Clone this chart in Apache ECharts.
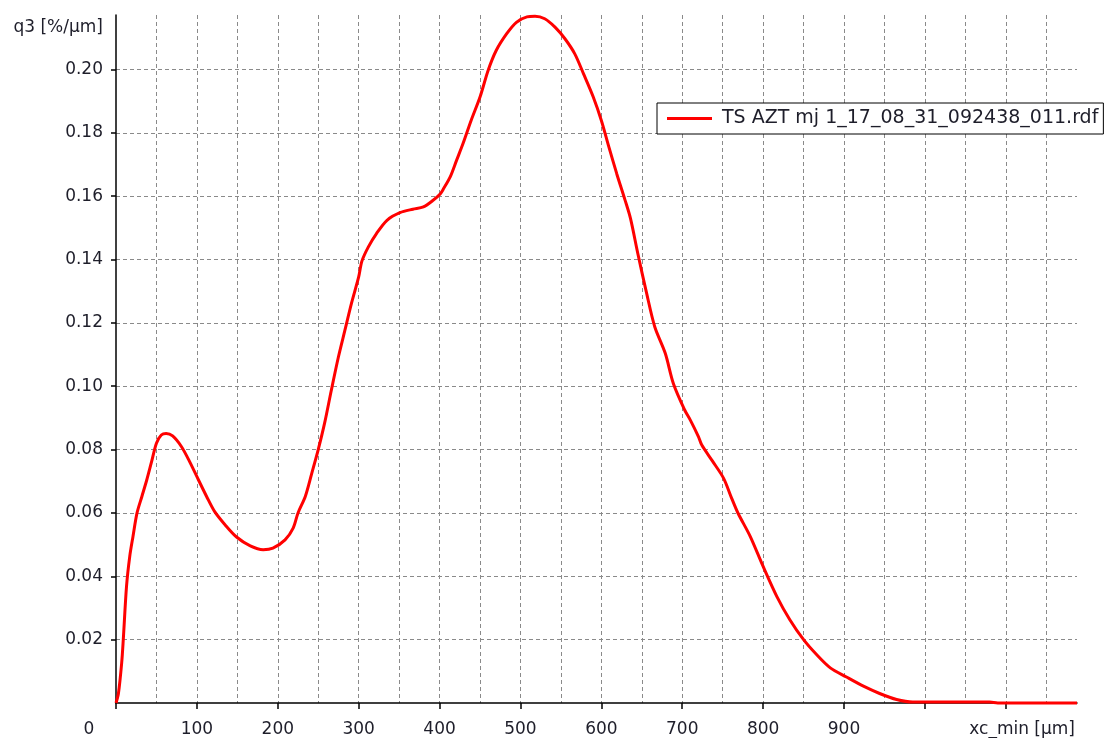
<!DOCTYPE html>
<html>
<head>
<meta charset="utf-8">
<script src="https://cdn.jsdelivr.net/npm/echarts@6/dist/echarts.min.js"></script>
<style>
  html, body { margin: 0; padding: 0; background: #fff; }
  #chart { width: 1110px; height: 738px; }
</style>
</head>
<body>
<div id="chart"></div>
<script>
// xc_min [µm]
const sizeX = [
  0, 3, 7, 9, 13, 17, 21, 26, 32, 38, 44, 50, 56, 62, 70, 81, 91, 102, 112, 122,
  135, 149, 166, 182, 194, 209, 219, 225, 234, 242, 250, 258, 266, 275, 283, 291,
  300, 304, 312, 322, 335, 351, 367, 380, 392, 401, 405, 413, 421, 429, 439, 450,
  460, 470, 483, 495, 508, 518, 530, 543, 555, 567, 578, 590, 600, 609, 619, 629,
  636, 645, 656, 666, 679, 689, 703, 710, 720, 724, 737, 751, 761, 769, 784, 800,
  817, 833, 850, 866, 883, 903, 924, 944, 965, 985, 1000, 1080, 1090, 1188
]
// q3 [%/µm]
const q3 = [
  0, 0.003, 0.0126, 0.02, 0.0368, 0.0463, 0.0526, 0.06, 0.0652, 0.0704, 0.0762, 0.082, 0.0846, 0.0851, 0.0843, 0.0809, 0.0762, 0.0704, 0.0652, 0.0604,
  0.0562, 0.0524, 0.0496, 0.0484, 0.0489, 0.0515, 0.0552, 0.06, 0.0652, 0.0725, 0.08, 0.0885, 0.0985, 0.1093, 0.1177, 0.1261,
  0.1345, 0.1395, 0.144, 0.1482, 0.1524, 0.1548, 0.1559, 0.1566, 0.1587, 0.1608, 0.1624, 0.166, 0.1713, 0.1766, 0.1839, 0.1913,
  0.1997, 0.206, 0.2113, 0.2149, 0.2166, 0.2168, 0.216, 0.2133, 0.2097, 0.205, 0.1986, 0.1913, 0.1839, 0.1758, 0.1671, 0.159,
  0.153, 0.142, 0.1293, 0.1188, 0.1104, 0.1009, 0.0925, 0.0893, 0.0841, 0.0815, 0.0765, 0.071, 0.0647, 0.0599, 0.0526, 0.0431,
  0.0336, 0.0263, 0.02, 0.0153, 0.0111, 0.0082, 0.0053, 0.003, 0.0011, 0.0003, 0.0003, 0.0003, 0, 0
]
const seriesName = 'TS AZT mj 1_17_08_31_092438_011.rdf'

const myChart = echarts.init(document.getElementById('chart'))

const gridLine = {
  show: true,
  lineStyle: { color: '#8a8a8a', width: 1, type: [4, 3] }
}
const labelFont = { fontFamily: 'DejaVu Sans', fontSize: 17, color: '#1e1e2a' }

myChart.setOption({
  animation: false,
  grid: { left: 116, right: 33, top: 15, bottom: 35, outerBoundsMode: 'none' },
  legend: {
    left: 657,
    top: 103,
    padding: [6, 5, 6, 10],
    backgroundColor: '#fff',
    borderColor: '#000',
    borderWidth: 1,
    borderRadius: 0,
    icon: 'rect',
    itemWidth: 45,
    itemHeight: 3,
    textStyle: { fontFamily: 'DejaVu Sans', fontSize: 19, color: '#1e1e2a', padding: [0, 0, 0, 5] },
    data: [seriesName]
  },
  xAxis: {
    type: 'value',
    min: 0,
    max: 1188,
    interval: 100,
    name: 'xc_min [µm]',
    nameLocation: 'end',
    nameGap: 0,
    nameMoveOverlap: false,
    nameTextStyle: { ...labelFont, align: 'right', verticalAlign: 'top', padding: [18, 2, 0, 0] },
    axisLine: { show: true, lineStyle: { color: '#000', width: 1.5 } },
    axisTick: { show: true, length: 6, lineStyle: { color: '#000', width: 1.5 } },
    minorTick: { show: false, splitNumber: 2 },
    minorSplitLine: gridLine,
    splitLine: { ...gridLine, showMinLine: false, showMaxLine: false },
    axisLabel: {
      ...labelFont,
      margin: 18,
      showMaxLabel: false,
      formatter: v => (v === 0 ? '{o|0}' : v <= 900 ? String(v) : ''),
      rich: { o: { ...labelFont, padding: [0, 54, 0, 0] } }
    }
  },
  yAxis: {
    type: 'value',
    min: 0,
    max: 0.2172,
    interval: 0.02,
    name: 'q3 [%/µm]',
    nameLocation: 'end',
    nameGap: -13,
    nameMoveOverlap: false,
    nameTextStyle: { ...labelFont, align: 'right', verticalAlign: 'middle', padding: [0, 13, 0, 0] },
    axisLine: { show: true, lineStyle: { color: '#000', width: 1.5 } },
    axisTick: { show: true, length: 5, lineStyle: { color: '#000', width: 1.5 } },
    splitLine: { ...gridLine, showMinLine: false, showMaxLine: false },
    axisLabel: {
      ...labelFont,
      margin: 13,
      showMinLabel: false,
      showMaxLabel: false,
      formatter: v => (v === 0 ? '' : v.toFixed(2))
    }
  },
  series: [
    {
      name: seriesName,
      type: 'line',
      data: sizeX.map((x, i) => [x, q3[i]]),
      symbol: 'none',
      smooth: 0.3,
      clip: false,
      lineStyle: { color: '#ff0000', width: 3 },
      itemStyle: { color: '#ff0000' }
    }
  ]
})
</script>
</body>
</html>
